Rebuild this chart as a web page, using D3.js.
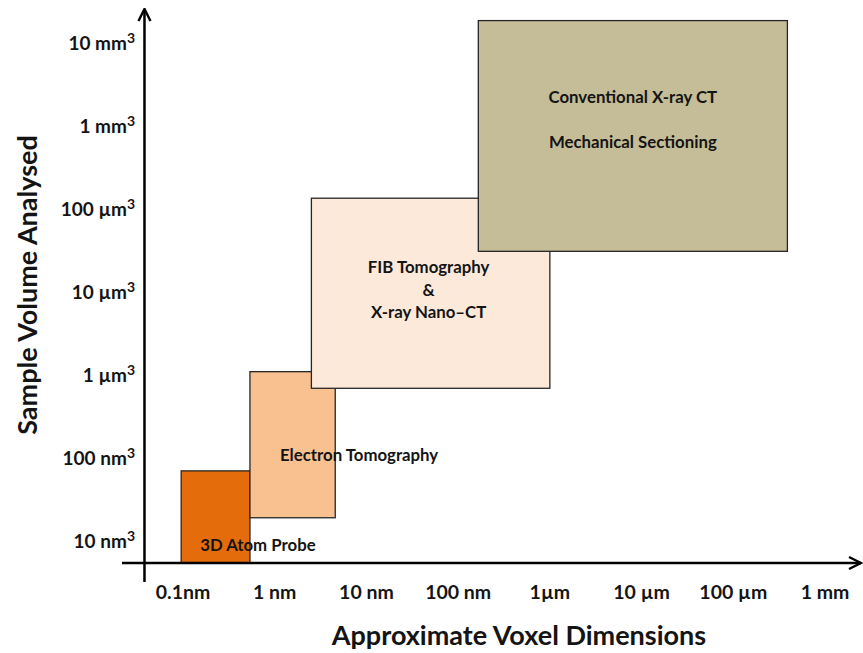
<!DOCTYPE html>
<html>
<head>
<meta charset="utf-8">
<script src="https://cdn.jsdelivr.net/npm/d3@7/dist/d3.min.js"></script>
<style>
  html, body { margin: 0; padding: 0; background: #fff; }
  svg { display: block; }
  text { font-family: Lato, "Open Sans", sans-serif; font-weight: 700; fill: #141414; }
</style>
</head>
<body>
<svg id="chart" width="863" height="653"></svg>
<script>
// Axis tick labels, one per decade step along each axis
const xTickLabels = ["0.1nm", "1 nm", "10 nm", "100 nm", "1µm", "10 µm", "100 µm", "1 mm"];
const yTickLabels = ["10 nm³", "100 nm³", "1 µm³", "10 µm³", "100 µm³", "1 mm³", "10 mm³"];

// Technique ranges, in decade steps of each axis (x: voxel size, y: sample volume)
const techniques = ["3D Atom Probe", "Electron Tomography", "FIB Tomography", "Conventional X-ray CT"];
const voxelMin  = [-0.02, 0.73, 1.40, 3.22];
const voxelMax  = [ 0.73, 1.66, 4.00, 6.59];
const volumeMin = [-0.265, 0.28, 1.84, 3.49];
const volumeMax = [ 0.845, 2.04, 4.13, 6.27];
const fills = ["#E46C0A", "#F9C090", "#FDE9DA", "#C4BD97"];

// Text written on each technique box (one entry per line)
const boxText = [
  ["3D Atom Probe"],
  ["Electron Tomography"],
  ["FIB Tomography", "&", "X-ray Nano–CT"],
  ["Conventional  X-ray CT", "Mechanical  Sectioning"]
];

const svg = d3.select("#chart");
const x = d3.scaleLinear().domain([0, 7]).range([183, 825]);
const y = d3.scaleLinear().domain([0, 6]).range([541, 43]);

const axisY = y(-0.265);   // baseline of the horizontal axis
const axisX = x(-0.42);    // position of the vertical axis

// Technique boxes, drawn small to large so larger ranges overlap smaller ones
const boxes = d3.range(techniques.length).map(i => ({
  name: techniques[i], x0: voxelMin[i], x1: voxelMax[i],
  y0: volumeMin[i], y1: volumeMax[i], fill: fills[i], lines: boxText[i]
}));

svg.append("g").selectAll("rect").data(boxes).join("rect")
  .attr("x", d => x(d.x0))
  .attr("y", d => y(d.y1))
  .attr("width", d => x(d.x1) - x(d.x0))
  .attr("height", d => y(d.y0) - y(d.y1))
  .attr("fill", d => d.fill)
  .attr("stroke", "#262626")
  .attr("stroke-width", 1.3);

// Box labels
const labelFont = 16.8;
// 3D Atom Probe: along the bottom, starting inside the box
svg.append("text").text(boxes[0].lines[0])
  .attr("x", x(boxes[0].x0) + 19).attr("y", axisY - 12)
  .attr("font-size", labelFont);
// Electron Tomography: starts inside the box, runs past its right edge
svg.append("text").text(boxes[1].lines[0])
  .attr("x", x(boxes[1].x0) + 30).attr("y", y(0.96))
  .attr("font-size", labelFont);
// FIB / Nano-CT: centered lines
{
  const b = boxes[2];
  const cx = x(1.4 + (4.0 - 1.4) * 0.5) - 2;
  b.lines.forEach((t, k) => {
    svg.append("text").text(t)
      .attr("x", cx).attr("y", y(3.3) + 6 + k * 22.5)
      .attr("text-anchor", "middle").attr("font-size", labelFont);
  });
}
// Conventional CT / Mechanical Sectioning
{
  const b = boxes[3];
  const cx = x((b.x0 + b.x1) / 2);
  b.lines.forEach((t, k) => {
    svg.append("text").text(t)
      .attr("x", cx).attr("y", y(5.35) + 6 + k * 45)
      .attr("text-anchor", "middle").attr("font-size", labelFont);
  });
}

// Axes with arrowheads
const defs = svg.append("defs");
defs.append("marker")
  .attr("id", "arrow").attr("viewBox", "0 0 10 10")
  .attr("refX", 9).attr("refY", 5)
  .attr("markerWidth", 6).attr("markerHeight", 6)
  .attr("markerUnits", "strokeWidth")
  .attr("orient", "auto")
  .append("path").attr("d", "M1,1 L9,5 L1,9")
  .attr("fill", "none").attr("stroke", "#000").attr("stroke-width", 1.6);

svg.append("line")
  .attr("x1", 122).attr("x2", 861)
  .attr("y1", axisY).attr("y2", axisY)
  .attr("stroke", "#000").attr("stroke-width", 2.5)
  .attr("marker-end", "url(#arrow)");
svg.append("line")
  .attr("x1", axisX).attr("x2", axisX)
  .attr("y1", 582).attr("y2", 9)
  .attr("stroke", "#000").attr("stroke-width", 2.5)
  .attr("marker-end", "url(#arrow)");

// Tick labels
svg.append("g").selectAll("text").data(xTickLabels).join("text")
  .text(d => d)
  .attr("x", (d, i) => x(i))
  .attr("y", 599)
  .attr("text-anchor", "middle")
  .attr("font-size", 19.5);

// Volume labels: the cube mark is drawn as a raised "3" so it reads at full weight
const yTicks = svg.append("g").selectAll("text").data(yTickLabels).join("text")
  .attr("x", 135)
  .attr("y", (d, i) => y(i) + 7)
  .attr("text-anchor", "end")
  .attr("font-size", 19);
yTicks.append("tspan").text(d => d.replace("³", ""));
yTicks.append("tspan").text("3")
  .attr("font-size", 14).attr("dy", -7);

// Axis titles
svg.append("text").text("Approximate Voxel Dimensions")
  .attr("x", 519).attr("y", 645)
  .attr("text-anchor", "middle")
  .attr("font-size", 27);

svg.append("text").text("Sample Volume Analysed")
  .attr("transform", "translate(37,285) rotate(-90)")
  .attr("text-anchor", "middle")
  .attr("font-size", 27);
</script>
</body>
</html>
